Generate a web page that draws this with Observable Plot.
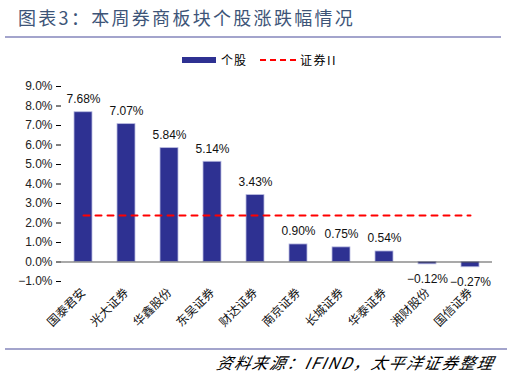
<!DOCTYPE html>
<html>
<head>
<meta charset="utf-8">
<script src="https://cdn.jsdelivr.net/npm/d3@7"></script>
<script src="https://cdn.jsdelivr.net/npm/@observablehq/plot@0.6"></script>
<style>
  html, body { margin: 0; padding: 0; background: #fff; }
  #wrap { position: relative; width: 507px; height: 376px; overflow: hidden; font-family: "Liberation Sans", Arial, sans-serif; }
  #title { position: absolute; left: 18px; top: 5px; font-family: "Noto Sans CJK SC", sans-serif; font-size: 18px; letter-spacing: 2.3px; color: #3d5478; line-height: 24px; white-space: nowrap; }
  #tline { position: absolute; left: 5px; top: 36px; width: 496px; height: 2px; background: #a3a4cc; }
  #bline { position: absolute; left: 5px; top: 348px; width: 502px; height: 2px; background: #a3a4cc; }
  #caption { position: absolute; left: 215px; top: 351px; font-family: "Noto Sans CJK SC", sans-serif; font-style: italic; font-size: 16px; letter-spacing: 1.6px; line-height: 22px; white-space: nowrap; color: #000; transform: skewX(-12deg); transform-origin: left bottom; }
  #legend { position: absolute; left: 0; top: 50px; width: 507px; height: 20px; font-family: "Noto Sans CJK SC", sans-serif; font-size: 12px; color: #000; }
  .sw-bar { position: absolute; left: 182px; top: 7px; width: 34px; height: 6px; background: #2e3192; }
  .lab1 { position: absolute; left: 221px; top: 1px; line-height: 18px; letter-spacing: 1px; }
  .sw-dash { position: absolute; left: 260px; top: 9px; width: 36px; height: 0; border-top: 2px dashed #ff0000; }
  .lab2 { position: absolute; left: 300px; top: 1px; line-height: 18px; letter-spacing: 1.5px; }
  #chart { position: absolute; left: 0; top: 0; }
</style>
</head>
<body>
<div id="wrap">
  <div id="title"></div>
  <div id="tline"></div>
  <div id="legend">
    <div class="sw-bar"></div><div class="lab1" id="l1"></div>
    <div class="sw-dash"></div><div class="lab2" id="l2"></div>
  </div>
  <div id="chart"></div>
  <div id="bline"></div>
  <div id="caption"></div>
</div>
<script>
const titleText = "图表3：本周券商板块个股涨跌幅情况";
const captionText = "资料来源：IFIND，太平洋证券整理";
const seriesNames = ["个股", "证券II"];
const stocks = ["国泰君安", "光大证券", "华鑫股份", "东吴证券", "财达证券", "南京证券", "长城证券", "华泰证券", "湘财股份", "国信证券"];
const changes = [7.68, 7.07, 5.84, 5.14, 3.43, 0.90, 0.75, 0.54, -0.12, -0.27];
const sectorChange = 2.39;
const yTicks = [-1, 0, 1, 2, 3, 4, 5, 6, 7, 8, 9];

document.getElementById("title").textContent = titleText;
document.getElementById("caption").textContent = captionText;
document.getElementById("l1").textContent = seriesNames[0];
document.getElementById("l2").textContent = seriesNames[1];

const data = stocks.map((name, i) => ({name, value: changes[i]}));
const fmt = v => (v < 0 ? "−" : "") + Math.abs(v).toFixed(2) + "%";

const chart = Plot.plot({
  width: 507,
  height: 376,
  marginLeft: 61,
  marginRight: 15,
  marginTop: 86,
  marginBottom: 95,
  style: {fontFamily: "Liberation Sans, Arial, sans-serif", background: "transparent", overflow: "visible"},
  x: {domain: stocks, paddingInner: 0.58, paddingOuter: 0.29, label: null},
  y: {domain: [-1, 9], label: null},
  marks: [
    Plot.barY(data, {x: "name", y: "value", fill: "#2e3192", stroke: "#b9bbe0", strokeWidth: 0.8}),
    Plot.ruleY([0], {stroke: "#555", strokeWidth: 1.2}),
    Plot.lineY(stocks, {x: d => d, y: () => sectorChange, stroke: "#ff0000", strokeWidth: 2, strokeDasharray: "6,6"}),
    Plot.text(data.filter(d => d.value >= 0), {
      x: "name", y: "value", text: d => fmt(d.value),
      dy: -13, fontSize: 12, fill: "#111"
    }),
    Plot.text(data.filter(d => d.value < 0), {
      x: "name", y: "value", text: d => fmt(d.value),
      dy: 15, fontSize: 12, fill: "#111"
    }),
    Plot.axisY({
      ticks: yTicks,
      tickFormat: d => (d < 0 ? "−" : "") + Math.abs(d).toFixed(1) + "%",
      tickSize: 5,
      tickPadding: 4,
      fontSize: 12,
      line: true,
      stroke: "#000",
      color: "#222"
    }),
    Plot.axisX({
      tickSize: 0,
      tickPadding: 9,
      tickRotate: -45,
      fontSize: 12,
      fontFamily: "Noto Sans CJK SC, sans-serif",
      color: "#111"
    })
  ]
});
document.getElementById("chart").appendChild(chart);
</script>
</body>
</html>
